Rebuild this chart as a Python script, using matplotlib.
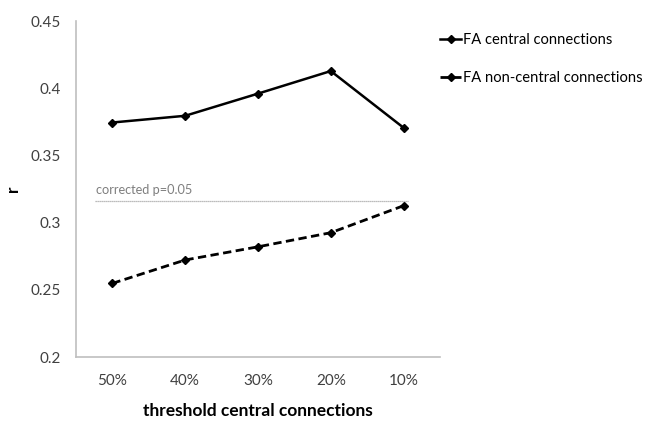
import matplotlib
matplotlib.use("Agg")
import matplotlib.pyplot as plt

thresholds = ["50%", "40%", "30%", "20%", "10%"]
fa_central = [0.3745, 0.3795, 0.396, 0.4128, 0.3706]
fa_noncentral = [0.2548, 0.2722, 0.282, 0.2925, 0.3126]
corrected_p = 0.316
y_ticks = [0.2, 0.25, 0.3, 0.35, 0.4, 0.45]
y_tick_labels = ["0.2", "0.25", "0.3", "0.35", "0.4", "0.45"]

plt.rcParams["font.family"] = ["Lato", "DejaVu Sans"]

fig = plt.figure(figsize=(6.46, 4.21), dpi=100)
ax = fig.add_axes([0.1176, 0.152, 0.5635, 0.798])

xs = [i + 0.5 for i in range(len(thresholds))]
ax.plot(xs, fa_central, color="black", linewidth=1.8, marker="D", markersize=4,
        label="FA central connections")
ax.plot(xs, fa_noncentral, color="black", linewidth=2.0, linestyle=(0, (3, 1.6)),
        marker="D", markersize=4, label="FA non-central connections")

ax.hlines(corrected_p, 0.26, 4.56, colors="#a6a6a6", linestyles=(0, (1, 0.6)), linewidth=0.9)
ax.text(0.28, corrected_p + 0.004, "corrected p=0.05", color="#7f7f7f", fontsize=9.2,
        va="bottom", ha="left")

ax.set_xlim(0, 5)
ax.set_ylim(0.2, 0.45)
ax.set_xticks(xs)
ax.set_xticklabels(thresholds, fontsize=11, color="#404040")
ax.set_yticks(y_ticks)
ax.set_yticklabels(y_tick_labels, fontsize=11, color="#404040")
ax.tick_params(axis="x", length=0, pad=12)
ax.tick_params(axis="y", length=0, pad=11)

for side in ("top", "right"):
    ax.spines[side].set_visible(False)
for side in ("left", "bottom"):
    ax.spines[side].set_color("#bfbfbf")
    ax.spines[side].set_linewidth(1.2)

ax.set_xlabel("threshold central connections", fontsize=12.5, fontweight="bold", labelpad=11)
ax.set_ylabel("r", fontsize=12.5, fontweight="bold")
ax.yaxis.set_label_coords(-0.15, 0.5)

fig.legend(loc="upper left", bbox_to_anchor=(0.681, 0.921), frameon=False,
           fontsize=10.6, handlelength=1.45, handletextpad=0.15, labelspacing=1.6,
           borderpad=0, borderaxespad=0)

fig.savefig("out.png", dpi=100)
